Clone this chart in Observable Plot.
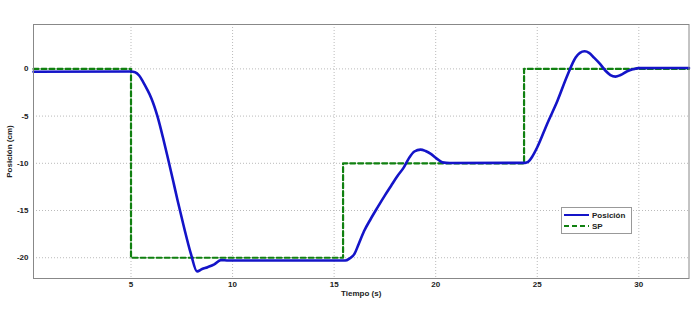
<!DOCTYPE html>
<html><head><meta charset="utf-8">
<script src="https://cdn.jsdelivr.net/npm/d3@7"></script>
<script src="https://cdn.jsdelivr.net/npm/@observablehq/plot@0.6"></script>
<style>
body{margin:0;background:#fff;}
#chart{position:relative;width:700px;height:313px;font-family:"Liberation Sans",Arial,sans-serif;}
#legend{position:absolute;left:561px;top:207px;width:69px;height:25px;border:1px solid #999;background:#fff;font-size:8px;font-weight:bold;color:#222;}
#legend .row{position:absolute;left:2px;height:10px;display:flex;align-items:center;}
#legend svg{margin-right:3px;}
</style>
</head><body><div id="chart"></div>
<script>
// Posición (cm) vs Tiempo (s)
const posT = [0.2, 5.0, 5.2, 5.4, 5.6, 5.8, 6.0, 6.3, 6.6, 6.8, 7.1, 7.3, 7.6, 7.95, 8.25, 8.5, 8.77, 9.1, 9.42, 9.8, 10.1, 15.55, 15.75, 16.0, 16.2, 16.47, 16.8, 17.13, 17.5, 17.8, 18.1, 18.44, 18.7, 18.95, 19.25, 19.5, 19.76, 20.05, 20.33, 20.7, 24.4, 24.55, 24.75, 25.0, 25.49, 25.99, 26.48, 26.89, 27.1, 27.33, 27.55, 27.79, 28.1, 28.36, 28.6, 28.85, 29.1, 29.43, 29.7, 30.0, 32.47];
const posY = [-0.3, -0.28, -0.35, -0.7, -1.4, -2.2, -3.1, -5.0, -7.5, -9.3, -12.1, -14.0, -16.7, -19.6, -21.45, -21.2, -21.0, -20.7, -20.25, -20.3, -20.3, -20.3, -20.1, -19.6, -18.6, -17.2, -15.9, -14.7, -13.4, -12.4, -11.4, -10.4, -9.4, -8.75, -8.55, -8.7, -9.0, -9.5, -9.9, -9.97, -9.95, -9.85, -9.3, -8.3, -5.8, -3.4, -0.7, 1.2, 1.7, 1.86, 1.7, 1.2, 0.5, -0.2, -0.65, -0.82, -0.65, -0.25, -0.05, 0.08, 0.1];
// SP (set point)
const spT = [0.2, 5.0, 15.44, 24.35, 32.47];
const spY = [0, -20, -10, 0, 0];
const xTicks = [5, 10, 15, 20, 25, 30];
const yTicks = [0, -5, -10, -15, -20];

const pos = posT.map((t, i) => ({t, y: posY[i]}));
const sp = spT.map((t, i) => ({t, y: spY[i]}));

const blue = "#1414c8", green = "#108010";

const chart = Plot.plot({
  width: 700, height: 313,
  marginLeft: 33, marginRight: 11.5, marginTop: 24, marginBottom: 35,
  x: {domain: [0.2, 32.47]},
  y: {domain: [-22.2, 4.7]},
  style: {fontFamily: "Liberation Sans, Arial, sans-serif", fontSize: "8px", fontWeight: "bold", color: "#222", background: "#fff"},
  marks: [
    Plot.gridX(xTicks, {stroke: "#bbb", strokeOpacity: 1, strokeDasharray: "1,2"}),
    Plot.gridY(yTicks, {stroke: "#bbb", strokeOpacity: 1, strokeDasharray: "1,2"}),
    Plot.axisX(xTicks, {tickSize: 0, tickPadding: 3, tickFormat: d => String(d), label: "Tiempo (s)", labelAnchor: "center", labelOffset: 17, labelArrow: "none"}),
    Plot.axisY(yTicks, {tickSize: 0, tickPadding: 5, tickFormat: d => String(d), label: "Posición (cm)", labelAnchor: "center", labelOffset: 27, labelArrow: "none"}),
    Plot.line(sp, {x: "t", y: "y", curve: "step-after", stroke: green, strokeWidth: 2.2, strokeDasharray: "5,3"}),
    Plot.line(pos, {x: "t", y: "y", curve: "monotone-x", stroke: blue, strokeWidth: 2.6}),
    Plot.frame({stroke: "#888"})
  ]
});
const root = document.getElementById("chart");
root.appendChild(chart);
const legend = document.createElement("div");
legend.id = "legend";
legend.innerHTML = `
<div class="row" style="top:2px"><svg width="25" height="6"><line x1="0" y1="3" x2="25" y2="3" stroke="${blue}" stroke-width="2"/></svg><span>Posición</span></div>
<div class="row" style="top:13px"><svg width="25" height="6"><line x1="0" y1="3" x2="25" y2="3" stroke="${green}" stroke-width="2" stroke-dasharray="5,3"/></svg><span>SP</span></div>`;
root.appendChild(legend);
</script>
</body></html>
